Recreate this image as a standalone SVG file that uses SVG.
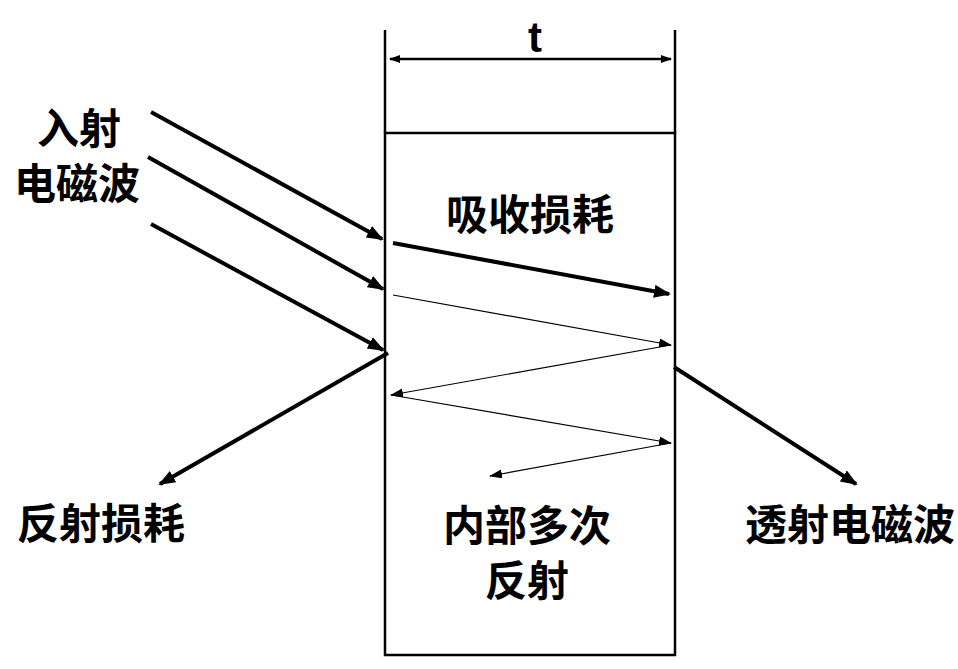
<svg xmlns="http://www.w3.org/2000/svg" width="958" height="669" viewBox="0 0 958 669">
<style>
.lbl{font-family:"Noto Sans CJK SC","Noto Sans",sans-serif;font-weight:bold;font-size:42px;fill:#000;text-anchor:middle}
.thick{stroke:#000;stroke-width:4;fill:none}
.thin{stroke:#000;stroke-width:1.2;fill:none}
.edge{stroke:#000;stroke-width:2.5;fill:none}
</style>
<defs>
<marker id="ah" markerUnits="userSpaceOnUse" markerWidth="18" markerHeight="14" refX="15" refY="6.5" orient="auto"><path d="M0,0 L17,6.5 L0,13 z" fill="#000"/></marker>
<marker id="ahThin" markerUnits="userSpaceOnUse" markerWidth="14" markerHeight="10" refX="12" refY="4.5" orient="auto"><path d="M0,0 L13,4.5 L0,9 z" fill="#000"/></marker>
<marker id="ahDim" markerUnits="userSpaceOnUse" markerWidth="12" markerHeight="9" refX="10" refY="4" orient="auto-start-reverse"><path d="M0,0 L11,4 L0,8 z" fill="#000"/></marker>
</defs>
<rect width="958" height="669" fill="#fff"/>
<g id="slab">
<rect x="385" y="133" width="290" height="522" class="edge"/>
<line x1="385" y1="30" x2="385" y2="133" class="edge"/>
<line x1="675" y1="30" x2="675" y2="133" class="edge"/>
</g>
<g id="dimension">
<line x1="390" y1="59" x2="671" y2="59" class="edge" marker-start="url(#ahDim)" marker-end="url(#ahDim)"/>
<text x="535" y="52" font-family="Liberation Sans, Arial, sans-serif" font-weight="bold" font-size="42" text-anchor="middle">t</text>
</g>
<g id="connectors">
<line x1="151" y1="112" x2="382" y2="239" class="thick" marker-end="url(#ah)"/>
<line x1="148" y1="157" x2="383" y2="289" class="thick" marker-end="url(#ah)"/>
<line x1="151" y1="224" x2="383" y2="350" class="thick" marker-end="url(#ah)"/>
<line x1="393" y1="243" x2="669" y2="294" class="thick" marker-end="url(#ah)"/>
<line x1="388" y1="353" x2="160" y2="484" class="thick" marker-end="url(#ah)"/>
<line x1="674" y1="367" x2="856" y2="484" class="thick" marker-end="url(#ah)"/>
<line x1="393" y1="295" x2="671" y2="345" class="thin" marker-end="url(#ahThin)"/>
<line x1="671" y1="345" x2="391" y2="395" class="thin" marker-end="url(#ahThin)"/>
<line x1="391" y1="395" x2="671" y2="443" class="thin" marker-end="url(#ahThin)"/>
<line x1="671" y1="443" x2="490" y2="476" class="thin" marker-end="url(#ahThin)"/>
</g>
<g id="incident"><text class="lbl" x="79" y="144">入射</text><text class="lbl" x="77" y="199">电磁波</text></g>
<g id="absorption"><text class="lbl" x="530" y="230">吸收损耗</text></g>
<g id="reflection"><text class="lbl" x="101" y="539">反射损耗</text></g>
<g id="internal"><text class="lbl" x="527" y="541">内部多次</text><text class="lbl" x="527" y="596">反射</text></g>
<g id="transmission"><text class="lbl" x="850" y="540">透射电磁波</text></g>
</svg>
